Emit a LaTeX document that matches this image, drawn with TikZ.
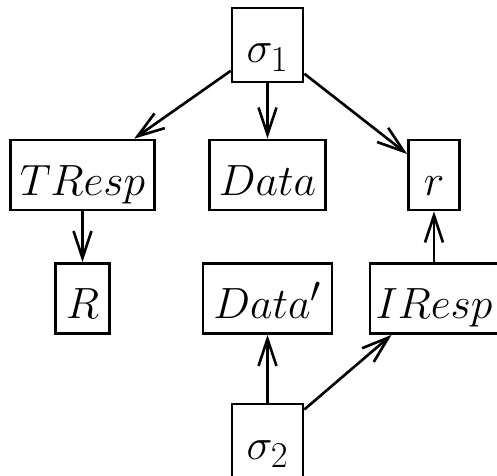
\documentclass[tikz,border=0pt]{standalone}
\usepackage{amsmath}
\usepackage{tikz}
\usetikzlibrary{positioning, arrows.meta}
\tikzset{>={Straight Barb[length=5.4mm, width=3.6mm]}, node distance=2.6cm,
    box/.style={draw, line width=1.5pt, inner xsep=0pt, inner ysep=0pt, text height=1.1cm, text depth=0.3cm, font=\fontsize{29}{35}\selectfont},
    sbox/.style={box, text depth=0.38cm, minimum width=1.42cm},}

\begin{document}
\begin{tikzpicture}
        \useasboundingbox (0,0) rectangle (9.94,-9.5);
        \node[sbox] (s1) at (5.35,-0.9) {$\sigma_1$};
        \node[box, minimum width=2.32cm, below of=s1] (data) {$Data$};
        \node[box, minimum width=2.88cm, node distance=3.7cm, left of=data] (tresp) {$TResp$};
        \node[box, minimum width=1.02cm, node distance=3.33cm, right of=data] (r) {$r$};
        \node[box, minimum width=1.08cm, node distance=2.47cm, below of=tresp] (R) {$R$};
        \node[box, minimum width=2.58cm, node distance=2.47cm, below of=data] (data2) {$Data'$};
        \node[box, minimum width=2.56cm, node distance=2.47cm, below of=r] (iresp) {$IResp$};
        \node[sbox, node distance=2.85cm, below of=data2] (s2) {$\sigma_2$};

        \draw[->, line width=1.5pt] (s1) edge (tresp)
                  (s1) edge (data)
                  (s1) edge (r)
                  (tresp) edge (R)
                  (iresp) edge (r)
                  (s2) edge (data2)
                  (s2) edge (iresp);
    \end{tikzpicture}
\end{document}
